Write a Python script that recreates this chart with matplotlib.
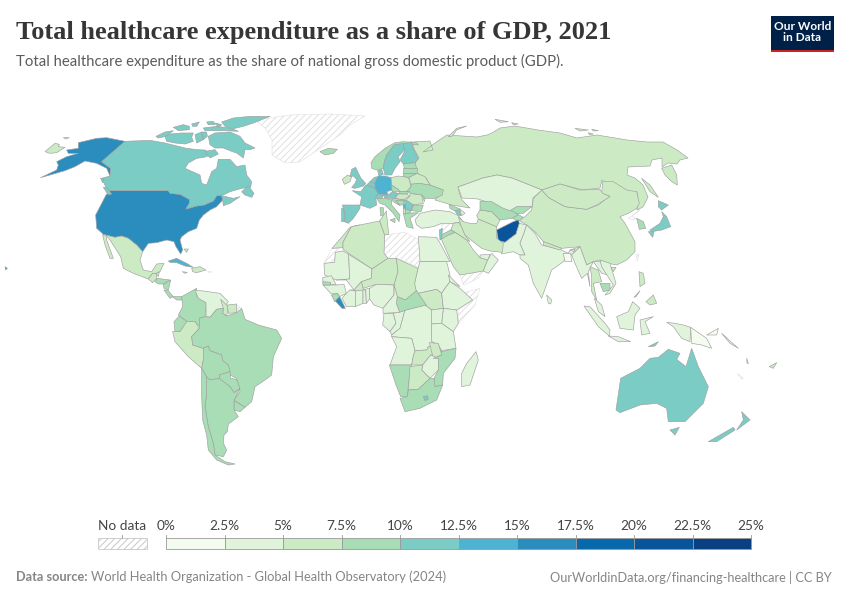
import matplotlib
matplotlib.use("Agg")
import matplotlib.pyplot as plt
from matplotlib.colors import BoundaryNorm, ListedColormap
from matplotlib.patches import Polygon, Rectangle

# ---------- legend scale ----------
bin_edges = [0, 2.5, 5, 7.5, 10, 12.5, 15, 17.5, 20, 22.5, 25]
bin_labels = ["0%", "2.5%", "5%", "7.5%", "10%", "12.5%", "15%", "17.5%", "20%", "22.5%", "25%"]
bin_colors = ["#f4fbef", "#e0f3db", "#ccebc5", "#a8ddb5", "#7bccc4",
              "#4eb3d3", "#2b8cbe", "#0868ac", "#08559c", "#084081"]

# ---------- estimated shares of GDP (None = no data) ----------
shares_na = {"United States": 17.4, "Alaska": 17.4, "Hawaii": 17.4, "Canada": 12.3, "Nova Scotia": 12.3,
             "Newfoundland": 12.3, "Vancouver": 12.3, "Haida": 12.3,
             "Mexico": 6.1, "Baja": 6.1, "Chukotka": 6.9, "St Lawrence": 6.9, "Greenland": None,
             "Guatemala": 6.3, "Belize": 6.0, "Honduras": 8.0, "Nicaragua": 9.5, "Costa Rica": 7.6,
             "Panama": 8.1, "Cuba": 14.0, "Hispaniola": 5.0, "Jamaica": 6.5, "Bahamas": 6.0, "Puerto Rico": None}
outlines_na = {
    "United States": [(330,272),(505,272),(510,280),(540,283),(568,298),(568,310),(558,327),(590,318),(612,315),(640,303),(650,287),(665,287),(668,300),(650,320),(630,330),(610,345),(598,360),(590,385),(565,395),(545,410),(540,420),(548,450),(542,462),(528,440),(522,425),(500,420),(470,428),(445,430),(428,455),(410,435),(385,415),(365,408),(345,412),(310,403),(290,385),(287,345),(300,320),(318,285)],
    "Alaska": [(375,124),(305,185),(318,195),(332,205),(330,228),(320,205),(290,190),(255,183),(225,200),(195,212),(122,233),(170,210),(175,195),(170,185),(200,170),(235,160),(205,160),(200,150),(235,145),(235,128),(290,115),(320,113)],
    "Hawaii": [(15,500),(22,505),(17,510)],
    "Canada": [(375,124),(450,121),(495,129),(555,144),(590,149),(615,150),(632,165),(612,172),(590,175),(565,189),(555,205),(600,225),(605,250),(620,255),(635,215),(650,205),(655,178),(690,178),(710,200),(735,195),(740,225),(755,245),(752,262),(725,265),(690,275),(670,285),(650,287),(640,303),(612,315),(590,318),(558,327),(568,310),(568,298),(540,283),(510,280),(505,272),(330,272),(318,262),(305,235),(330,228),(332,205),(318,195),(305,185)],
    "Nova Scotia": [(665,287),(700,295),(720,290),(690,310),(670,317),(668,300)],
    "Newfoundland": [(725,275),(745,258),(762,280),(755,292),(735,285)],
    "Vancouver": [(310,262),(320,262),(335,282),(325,285)],
    "Haida": [(302,235),(312,237),(308,248)],
    "Mexico": [(308,403),(345,412),(365,408),(385,415),(410,435),(428,455),(420,480),(430,510),(455,515),(470,492),(492,490),(480,515),(470,520),(458,520),(445,537),(400,520),(370,505),(362,470),(330,420),(320,408)],
    "Baja": [(308,405),(318,405),(320,420),(340,475),(330,475),(315,435)],
    "Chukotka": [(135,155),(165,130),(178,133),(175,140),(195,142),(170,158),(150,160)],
    "St Lawrence": [(190,113),(208,113),(198,117)],
    "Greenland": [(765,60),(870,45),(990,42),(1095,48),(1050,75),(1020,105),(975,135),(900,186),(855,189),(816,165),(816,120),(795,84)],
    "Guatemala": [(445,537),(458,520),(470,522),(470,535),(458,548)],
    "Belize": [(468,520),(478,515),(475,530)],
    "Honduras": [(465,545),(472,535),(510,540),(490,552),(475,552)],
    "Nicaragua": [(490,553),(512,540),(505,570),(492,565)],
    "Costa Rica": [(492,570),(505,572),(520,590),(510,595)],
    "Panama": [(518,590),(545,590),(548,600),(530,600)],
    "Cuba": [(505,483),(530,475),(560,490),(580,502),(555,498),(530,488),(510,487)],
    "Hispaniola": [(575,505),(600,500),(618,510),(590,518),(578,515)],
    "Jamaica": [(547,515),(562,517),(555,520)],
    "Bahamas": [(552,447),(565,447),(560,457)],
    "Puerto Rico": [(622,515),(635,515),(630,518)],
}

shares_arctic = {"Victoria": 12.3, "Banks": 12.3, "Melville": 12.3, "Bathurst": 12.3, "Prince of Wales": 12.3,
                 "Somerset": 12.3, "Devon": 12.3, "Ellesmere": 12.3, "Axel": 12.3, "Cornwallis": 12.3,
                 "Baffin": 12.3, "Southampton": 12.3}
outlines_arctic = {
    "Victoria": [(45,85),(60,78),(95,75),(130,75),(125,88),(130,100),(105,108),(75,105),(50,100)],
    "Banks": [(18,85),(45,72),(70,68),(48,85),(25,90)],
    "Melville": [(70,58),(100,50),(118,55),(118,65),(85,68)],
    "Bathurst": [(125,48),(148,42),(140,55),(128,55)],
    "Prince of Wales": [(135,80),(155,72),(160,95),(140,105)],
    "Somerset": [(155,72),(170,72),(172,85),(160,95)],
    "Devon": [(160,60),(200,55),(240,60),(265,70),(225,68),(165,68)],
    "Ellesmere": [(215,42),(250,30),(300,25),(360,25),(310,45),(280,55),(250,62),(225,55)],
    "Axel": [(170,42),(190,40),(195,50),(175,50)],
    "Cornwallis": [(195,45),(215,50),(205,58)],
    "Baffin": [(175,85),(195,75),(240,72),(270,85),(285,105),(315,120),(300,125),(285,125),(280,150),(260,135),(245,130),(220,120),(195,120),(180,110)],
    "Southampton": [(165,130),(195,125),(205,138),(180,150)],
}

shares_sa = {"Colombia": 8.1, "Venezuela": 4.0, "Guyana": 5.5, "Suriname": 6.5, "French Guiana": None,
             "Ecuador": 8.5, "Peru": 6.3, "Brazil": 9.9, "Bolivia": 8.0, "Paraguay": 8.0, "Uruguay": 9.2,
             "Argentina": 9.7, "Chile": 9.0}
outlines_sa = {
    "Colombia": [(245,50),(290,25),(290,50),(320,68),(315,110),(298,115),(300,140),(285,125),(260,125),(235,105),(248,80)],
    "Venezuela": [(285,30),(310,33),(360,40),(385,65),(370,85),(350,88),(330,112),(318,108),(318,68),(295,55)],
    "Guyana": [(362,58),(385,80),(380,108),(368,100),(370,85)],
    "Suriname": [(382,75),(410,72),(410,98),(385,100)],
    "French Guiana": [(410,75),(425,85),(412,100)],
    "Ecuador": [(222,125),(238,108),(262,125),(240,155),(225,155)],
    "Peru": [(218,155),(225,155),(240,155),(260,125),(285,125),(298,145),(275,170),(278,195),(310,205),(310,240),(305,265),(265,230),(225,185)],
    "Brazil": [(298,115),(315,110),(330,112),(350,88),(370,85),(368,100),(380,108),(410,98),(425,85),(435,118),(475,135),(530,150),(545,175),(520,230),(515,285),(495,300),(465,320),(455,365),(435,382),(402,360),(420,335),(410,295),(390,285),(385,255),(365,240),(365,225),(330,212),(325,198),(310,205),(278,195),(275,170),(298,145)],
    "Bolivia": [(310,205),(325,198),(330,212),(365,225),(368,242),(385,255),(390,275),(358,285),(358,295),(330,300),(320,290),(305,265),(310,240)],
    "Paraguay": [(358,285),(390,275),(392,295),(410,298),(420,325),(402,338),(390,320),(360,300)],
    "Uruguay": [(402,362),(435,382),(420,395),(402,390)],
    "Argentina": [(320,292),(330,300),(358,295),(390,320),(402,338),(420,325),(402,362),(402,390),(415,410),(385,432),(382,455),(372,465),(370,490),(380,510),(370,530),(345,525),(340,490),(325,440),(315,380),(320,340)],
    "Chile": [(305,265),(320,292),(320,340),(315,380),(325,440),(340,490),(345,525),(375,545),(405,552),(385,555),(350,540),(325,510),(320,465),(308,420),(305,350)],
}

shares_eu = {"Iceland": 9.7, "Ireland": 6.1, "United Kingdom": 12.4, "Norway": 9.1, "Sweden": 11.3, "Finland": 10.3,
             "Denmark": 10.8, "Germany": 12.9, "Netherlands": 11.3, "Belgium": 11.0, "France": 12.3, "Spain": 10.7,
             "Portugal": 11.0, "Switzerland": 11.8, "Austria": 12.1, "Italy": 9.4, "Sicily": 9.4, "Sardinia": 9.4,
             "Poland": 6.4, "Czechia": 9.5, "Slovakia": 7.8, "Hungary": 7.4, "Romania": 6.5, "Bulgaria": 8.5,
             "Serbia": 10.5, "Montenegro": 13.0, "Bosnia": 9.0, "Croatia": 8.1, "Greece": 9.2, "Albania": 6.5,
             "Macedonia": 8.0, "Ukraine": 7.6, "Belarus": 6.5, "Lithuania": 7.8, "Latvia": 9.0, "Estonia": 7.5,
             "Moldova": 6.0, "Novaya Zemlya": 6.9}
outlines_eu = {
    "Iceland": [(-45,35),(-20,25),(7,28),(-5,40),(-30,45)],
    "Ireland": [(22,118),(38,105),(50,110),(45,125),(28,133)],
    "United Kingdom": [(45,110),(50,88),(62,82),(68,95),(78,115),(92,130),(85,138),(60,145),(50,143),(60,130),(65,118),(55,108)],
    "Norway": [(108,68),(120,50),(150,25),(180,8),(205,5),(245,8),(250,15),(215,10),(205,15),(178,15),(155,45),(148,65),(145,85),(125,90),(110,85)],
    "Sweden": [(145,85),(148,65),(155,45),(178,15),(205,10),(208,30),(190,50),(195,65),(180,85),(170,105),(150,105)],
    "Finland": [(205,12),(215,10),(230,5),(235,25),(250,55),(240,68),(205,72),(195,60),(208,35)],
    "Denmark": [(128,92),(140,88),(145,103),(132,108)],
    "Germany": [(120,125),(130,108),(150,108),(168,113),(172,150),(155,155),(160,165),(130,162),(120,145)],
    "Netherlands": [(105,125),(118,112),(128,110),(120,128)],
    "Belgium": [(95,135),(105,125),(120,130),(120,145),(108,140)],
    "France": [(52,152),(78,155),(92,135),(108,140),(120,147),(130,162),(122,170),(125,195),(105,205),(75,195),(80,170)],
    "Spain": [(22,195),(75,195),(75,205),(55,235),(40,250),(28,245),(30,225),(25,205)],
    "Portugal": [(20,205),(25,205),(30,225),(28,245),(20,245)],
    "Switzerland": [(122,170),(130,162),(145,165),(140,177),(125,175)],
    "Austria": [(145,165),(160,165),(172,155),(190,160),(180,175),(150,175)],
    "Italy": [(125,175),(150,175),(170,180),(170,195),(195,225),(192,245),(175,220),(150,195),(135,190)],
    "Sicily": [(165,240),(180,235),(180,248)],
    "Sardinia": [(135,203),(145,203),(145,225),(137,228)],
    "Czechia": [(168,135),(190,148),(195,155),(172,155)],
    "Poland": [(168,113),(190,108),(220,112),(228,140),(215,155),(195,155),(190,148),(170,135)],
    "Slovakia": [(195,155),(225,155),(215,162),(190,162)],
    "Hungary": [(190,162),(215,162),(225,168),(205,180),(180,175)],
    "Romania": [(225,160),(260,165),(265,190),(235,195),(212,180),(225,168)],
    "Moldova": [(260,160),(270,175),(268,185)],
    "Ukraine": [(228,132),(255,130),(285,135),(325,150),(322,165),(300,175),(270,175),(260,165),(225,160),(225,155),(215,155),(228,140)],
    "Belarus": [(222,112),(245,100),(270,110),(285,135),(255,130),(228,132)],
    "Lithuania": [(205,100),(245,100),(222,112),(205,110)],
    "Latvia": [(205,85),(245,85),(245,100),(205,100)],
    "Estonia": [(205,72),(240,68),(245,85),(208,85)],
    "Bulgaria": [(235,195),(265,195),(258,215),(228,212)],
    "Serbia": [(205,180),(212,180),(235,195),(228,212),(212,208),(212,195)],
    "Montenegro": [(205,190),(212,195),(212,208),(205,205)],
    "Bosnia": [(182,182),(205,180),(205,195),(195,195)],
    "Croatia": [(170,178),(180,175),(205,180),(182,182),(195,197),(175,185)],
    "Greece": [(205,220),(250,218),(225,235),(235,265),(215,260)],
    "Albania": [(205,205),(212,208),(212,222),(205,220)],
    "Macedonia": [(212,208),(228,212),(225,218),(212,222)],
    "Novaya Zemlya": [(340,-10),(365,-35),(395,-42),(365,-30),(350,-10)],
}

shares_me = {"Turkey": 4.6, "Syria": None, "Iraq": 5.1, "Iran": 6.0, "Saudi Arabia": 6.0, "Jordan": 7.5, "Israel": 10.5,
             "Oman": 4.5, "UAE": 4.6, "Yemen": None, "Turkmenistan": 6.0, "Uzbekistan": 7.7,
             "Georgia": 7.6, "Armenia": 11.3, "Azerbaijan": 4.6}
outlines_me = {
    "Turkey": [(-30,75),(-15,55),(30,45),(75,50),(100,62),(115,80),(100,82),(85,85),(50,85),(25,95),(-10,100),(-25,90)],
    "Syria": [(52,110),(50,88),(85,85),(78,105),(55,118)],
    "Iraq": [(78,105),(85,85),(100,82),(110,95),(120,120),(135,140),(125,135),(90,112)],
    "Iran": [(100,65),(115,80),(135,85),(155,85),(160,72),(215,95),(215,130),(235,145),(232,172),(195,168),(170,160),(138,135),(120,120),(108,92)],
    "Saudi Arabia": [(48,130),(70,120),(90,112),(125,135),(145,165),(165,188),(188,195),(175,228),(105,240),(85,215)],
    "Jordan": [(52,118),(78,105),(90,112),(70,120),(50,132)],
    "Israel": [(43,105),(52,100),(50,130),(45,135)],
    "Oman": [(188,195),(200,175),(220,195),(190,235),(175,228)],
    "UAE": [(165,180),(195,178),(188,195),(165,188)],
    "Yemen": [(105,240),(175,228),(160,250),(115,270)],
    "Turkmenistan": [(155,62),(165,45),(200,50),(225,75),(215,95),(160,72)],
    "Uzbekistan": [(165,18),(200,20),(235,40),(265,50),(280,60),(260,70),(225,75),(200,50),(165,45)],
    "Georgia": [(72,28),(105,42),(90,48),(75,40)],
    "Armenia": [(90,48),(105,45),(108,62),(98,60)],
    "Azerbaijan": [(105,42),(120,55),(110,62),(105,45)],
}

shares_wa = {"Morocco": 6.0, "Algeria": 6.3, "Tunisia": 6.3, "Western Sahara": None, "Mauritania": 4.0, "Mali": 4.5,
             "Niger": 6.3, "Libya": None, "Chad": 5.4, "CAR": 9.4, "Burkina Faso": 6.3, "Senegal": 4.5, "Guinea": 4.0,
             "Gambia": 8.0, "Sierra Leone": 9.5, "Liberia": 16.0, "Ivory Coast": 3.9, "Ghana": 4.0, "Togo": 4.5,
             "Benin": 2.6, "Nigeria": 4.1, "Cameroon": 3.8}
outlines_wa = {
    "Morocco": [(42,70),(68,40),(95,8),(125,0),(100,5),(75,52),(75,68)],
    "Algeria": [(75,52),(100,5),(185,-12),(200,30),(198,85),(210,100),(162,132),(92,85),(75,72)],
    "Tunisia": [(185,-12),(205,-42),(212,28),(200,30)],
    "Western Sahara": [(18,115),(42,70),(75,68),(75,78),(52,82),(50,112)],
    "Mauritania": [(18,115),(50,112),(52,82),(75,78),(92,88),(95,162),(55,165),(20,150)],
    "Mali": [(92,88),(162,132),(160,160),(130,170),(108,195),(85,165),(55,165),(95,162)],
    "Niger": [(162,132),(210,100),(235,100),(240,140),(228,180),(175,178),(135,190),(130,170),(160,160)],
    "Libya": [(200,30),(260,22),(305,45),(303,128),(275,115),(235,100),(210,100),(198,85)],
    "Chad": [(235,100),(300,130),(290,175),(295,200),(262,225),(238,215),(228,180),(240,140)],
    "CAR": [(235,235),(238,215),(262,225),(295,197),(325,240),(265,255),(245,262)],
    "Burkina Faso": [(95,195),(108,195),(130,170),(135,190),(143,195),(112,198)],
    "Senegal": [(14,158),(40,152),(55,180),(15,175)],
    "Guinea": [(15,180),(55,180),(78,178),(85,205),(65,215),(58,205),(38,205)],
    "Gambia": [(15,170),(38,172),(38,180),(15,180)],
    "Sierra Leone": [(40,210),(58,205),(65,215),(50,230)],
    "Liberia": [(52,228),(65,215),(82,250),(72,250)],
    "Ivory Coast": [(85,205),(95,195),(112,198),(112,245),(85,245),(72,220)],
    "Ghana": [(112,198),(135,195),(135,235),(112,245)],
    "Togo": [(135,195),(143,195),(145,235),(135,235)],
    "Benin": [(143,192),(155,190),(155,222),(145,235)],
    "Nigeria": [(155,190),(175,178),(228,180),(228,210),(195,250),(168,240),(155,222)],
    "Cameroon": [(228,180),(238,215),(235,235),(245,262),(195,265),(195,250),(228,210)],
}

shares_af = {"Egypt": 4.6, "Sudan": 4.5, "South Sudan": 5.5, "Eritrea": 4.0, "Ethiopia": 3.5, "Somalia": None,
             "Kenya": 4.6, "Uganda": 4.0, "Burundi": 9.0, "Tanzania": 3.8, "Gabon": 3.6, "Congo": 3.9, "DR Congo": 4.3,
             "Angola": 3.2, "Zambia": 6.0, "Malawi": 5.5, "Zimbabwe": 3.0, "Mozambique": 9.5, "Namibia": 9.0,
             "Botswana": 6.5, "South Africa": 9.0, "Lesotho": 12.0, "Madagascar": 4.0}
outlines_af = {
    "Egypt": [(325,20),(380,22),(395,48),(420,95),(330,95)],
    "Sudan": [(330,95),(410,95),(420,135),(420,155),(405,175),(395,190),(380,178),(325,190),(320,185),(312,165),(324,115)],
    "South Sudan": [(325,190),(380,178),(395,190),(400,235),(365,240),(345,225)],
    "Eritrea": [(415,135),(450,170),(420,155)],
    "Ethiopia": [(420,155),(450,175),(488,210),(440,240),(400,235),(395,190),(405,175)],
    "Somalia": [(455,190),(510,175),(495,225),(445,280),(445,240),(488,210)],
    "Kenya": [(400,235),(440,240),(445,280),(430,305),(395,280)],
    "Uganda": [(365,240),(400,235),(395,280),(365,282)],
    "Burundi": [(362,285),(372,285),(372,300),(362,302)],
    "Tanzania": [(365,282),(395,280),(430,305),(438,355),(395,362),(385,345),(365,335)],
    "Gabon": [(222,250),(250,250),(258,280),(240,305),(218,285)],
    "Congo": [(250,250),(285,240),(270,295),(245,315),(240,305),(258,280)],
    "DR Congo": [(285,240),(345,225),(365,240),(365,335),(385,345),(355,350),(350,360),(315,362),(305,325),(245,320),(245,315),(270,295)],
    "Angola": [(245,320),(305,325),(315,362),(310,378),(305,405),(240,405),(260,350)],
    "Zambia": [(315,362),(350,360),(355,350),(385,345),(395,365),(362,375),(338,405),(305,405),(310,378)],
    "Malawi": [(358,338),(385,340),(395,375),(370,385)],
    "Zimbabwe": [(338,405),(362,375),(385,385),(385,420),(360,445),(335,420)],
    "Mozambique": [(395,365),(438,355),(435,385),(400,430),(398,465),(375,470),(372,445),(385,420),(385,385),(370,385),(395,375)],
    "Namibia": [(238,405),(305,405),(298,440),(292,500),(272,500),(258,465)],
    "Botswana": [(300,410),(338,405),(335,420),(360,445),(325,478),(295,480)],
    "South Africa": [(292,500),(295,480),(325,478),(360,445),(372,445),(375,470),(398,465),(380,510),(330,535),(285,545),(270,505)],
    "Lesotho": [(340,500),(352,497),(355,508),(345,512)],
    "Madagascar": [(498,365),(505,390),(480,465),(455,470),(455,430),(470,400)],
}

shares_as = {"China": 5.4, "Mongolia": 7.0, "Russia": 7.0, "Kamchatka": 7.0, "Sakhalin": 7.0, "Kazakhstan": 4.2,
             "Kyrgyzstan": 7.8, "Tajikistan": 8.2, "Afghanistan": 21.8, "Pakistan": 2.9, "India": 3.3, "Nepal": 5.4,
             "Bangladesh": 2.4, "Bhutan": 4.0, "Myanmar": 4.6, "Thailand": 5.0, "Laos": 2.9, "Vietnam": 4.7,
             "Cambodia": 9.3, "Sri Lanka": 4.1, "South Korea": 9.3, "North Korea": None, "Taiwan": None,
             "Honshu": 11.0, "Hokkaido": 11.0, "Kyushu": 11.0, "Hainan": 5.4,
             "Severny": 7.0, "Kolguev": 7.0, "New Siberian A": 7.0, "New Siberian B": 7.0, "New Siberian C": 7.0}
outlines_as = {
    "China": [(185,240),(205,262),(255,290),(320,298),(355,285),(388,258),(365,250),(368,215),(400,215),(440,240),(470,245),(478,280),(470,295),(445,310),(420,320),(435,340),(465,395),(465,425),(440,450),(410,465),(385,460),(360,450),(340,455),(320,465),(300,410),(245,415),(190,395),(165,365),(140,345),(115,330),(135,320),(155,300),(160,265)],
    "Mongolia": [(185,240),(240,222),(300,240),(360,238),(368,250),(390,260),(350,285),(320,298),(255,290),(205,262)],
    "Kamchatka": [(545,175),(575,165),(590,195),(592,225),(575,215),(555,195)],
    "Sakhalin": [(485,205),(510,225),(535,262),(510,245)],
    "Severny": [(45,28),(85,35),(60,37)],
    "Kolguev": [(95,38),(115,42),(100,44)],
    "New Siberian A": [(285,55),(325,60),(300,63)],
    "New Siberian B": [(325,68),(340,72),(328,74)],
    "New Siberian C": [(335,58),(355,62),(340,63)],
    "Kazakhstan": [(-66,231),(9,204),(51,195),(96,204),(186,240),(159,264),(156,291),(111,291),(84,306),(54,291),(30,279),(-6,267),(-54,264)],
    "Kyrgyzstan": [(85,305),(110,290),(155,290),(130,310),(100,312)],
    "Tajikistan": [(90,320),(105,308),(130,322),(115,335)],
    "Afghanistan": [(50,360),(100,335),(115,330),(118,340),(108,372),(75,397),(55,392)],
    "Pakistan": [(75,397),(108,372),(118,340),(140,345),(130,375),(120,400),(135,435),(120,435),(100,425),(65,432),(55,392)],
    "India": [(140,345),(165,370),(185,405),(245,420),(275,435),(300,410),(270,420),(250,455),(215,480),(185,565),(160,520),(145,465),(120,445),(120,435),(135,435),(120,400),(130,375)],
    "Nepal": [(190,395),(245,415),(240,420),(190,405)],
    "Bangladesh": [(250,430),(272,430),(275,455),(255,455)],
    "Bhutan": [(270,420),(285,418),(282,425)],
    "Myanmar": [(300,410),(320,465),(340,455),(325,485),(330,530),(322,490),(305,505),(285,460),(275,435)],
    "Thailand": [(330,470),(355,480),(365,515),(340,520),(350,570),(335,545),(335,500)],
    "Laos": [(340,455),(360,455),(385,495),(365,490)],
    "Vietnam": [(360,450),(390,460),(408,520),(390,550),(375,555),(400,525),(365,470)],
    "Cambodia": [(360,520),(390,520),(390,540),(370,545)],
    "Sri Lanka": [(200,555),(215,570),(212,582),(205,580)],
    "South Korea": [(470,325),(490,335),(497,355),(478,358)],
    "North Korea": [(445,325),(475,305),(480,298),(455,318),(470,325),(458,330)],
    "Taiwan": [(468,432),(477,432),(472,455)],
    "Honshu": [(545,305),(560,320),(572,350),(545,360),(515,365),(510,360),(540,340),(550,320)],
    "Hokkaido": [(535,272),(565,285),(545,300),(535,290)],
    "Kyushu": [(505,365),(522,365),(518,382)],
    "Hainan": [(393,472),(408,472),(400,485)],
}

shares_oc = {"Sumatra": 3.5, "Java": 3.5, "Borneo": 3.5, "Sulawesi": 3.5, "West Papua": 3.5, "Papua New Guinea": 2.3,
             "New Britain": 2.3, "Solomon": 4.5, "Luzon": 5.0, "Mindanao": 5.0, "Palawan": 5.0, "Peninsular Malaysia": 4.4,
             "Australia": 10.5, "Tasmania": 10.5, "NZ North": 11.0, "NZ South": 11.0, "New Caledonia": None,
             "Vanuatu": 4.0, "Fiji": 6.5, "Timor": 11.0}
outlines_oc = {
    "Sumatra": [(72,108),(90,110),(135,160),(150,180),(148,198),(115,170)],
    "Java": [(145,198),(175,200),(212,215),(175,215)],
    "Borneo": [(170,140),(205,125),(218,95),(240,115),(225,135),(220,180),(180,175)],
    "Sulawesi": [(240,150),(280,140),(255,155),(270,190),(245,195)],
    "West Papua": [(320,157),(345,160),(370,165),(392,172),(390,215),(365,205),(340,170)],
    "Papua New Guinea": [(392,172),(440,205),(455,235),(425,225),(395,220)],
    "New Britain": [(440,195),(475,175),(470,195)],
    "Solomon": [(485,190),(535,235),(510,220)],
    "Luzon": [(237,5),(250,10),(255,40),(240,50)],
    "Mindanao": [(258,95),(280,75),(290,100),(270,105)],
    "Palawan": [(222,82),(240,62),(228,80)],
    "Peninsular Malaysia": [(103,85),(125,105),(135,140),(115,125)],
    "Australia": [(168,420),(182,325),(240,295),(270,265),(295,262),(325,238),(360,250),(350,268),(378,290),(395,235),(415,290),(445,350),(430,400),(375,455),(325,455),(320,415),(290,400),(240,405),(180,428)],
    "Tasmania": [(330,480),(358,472),(345,495)],
    "NZ North": [(545,425),(570,450),(530,480),(550,450)],
    "NZ South": [(445,515),(520,472),(525,480),(470,515)],
    "New Caledonia": [(532,310),(550,325),(545,328)],
    "Vanuatu": [(560,265),(565,280),(561,280)],
    "Fiji": [(628,290),(650,278),(640,295)],
    "Timor": [(265,230),(295,215),(285,228)],
}

# Russia is traced on the page grid
russia_outline = [(413,142),(430,141),(433,150),(423,152),(435,143),(447,135),(477,137),(487,135),(492,133),(500,128),(515,126),(538,130),(560,133),(577,138),(597,135),(627,140),(647,142),(663,142),(677,150),(688,158),(680,160),(677,164),(668,163),(662,167),(662,158),(652,160),(650,166),(628,167),(627,175),(635,178),(643,185),(648,197),(643,207),(637,210),(638,200),(637,192),(620,193),(602,180),(600,188),(583,190),(560,184),(542,190),(512,178),(497,175),(483,178),(458,187),(460,195),(462,200),(470,208),(452,205),(435,200),(443,190),(430,185),(426,178),(417,173),(415,169),(415,163),(419,158),(413,147)]

# crop frames that the outlines above were read in (offset on the page; third = scale)
frame_na = (0, 100, 3)
frame_arctic = (150, 108, 3)
frame_sa = (100, 280, 3)
frame_eu = (335, 140, 3)
frame_me = (425, 195, 3)
frame_wa = (318, 225, 3)
frame_af = (310, 230, 3)
frame_as = (480, 110, 3)
frame_oc = (560, 270, 3)

title = "Total healthcare expenditure as a share of GDP, 2021"
subtitle = "Total healthcare expenditure as the share of national gross domestic product (GDP)."
source_bold = "Data source:"
source_text = "World Health Organization - Global Health Observatory (2024)"
credit = "OurWorldinData.org/financing-healthcare | CC BY"

# ---------- drawing ----------
plt.rcParams["font.family"] = ["Lato", "DejaVu Sans"]
plt.rcParams["hatch.linewidth"] = 0.7
cmap = ListedColormap(bin_colors)
norm = BoundaryNorm(bin_edges, cmap.N)

fig = plt.figure(figsize=(8.5, 6), dpi=100)
ax = fig.add_axes([0, 0, 1, 1])
ax.set_xlim(0, 850)
ax.set_ylim(600, 0)
ax.axis("off")

def add_shape(points, value):
    if value is None:
        ax.add_patch(Polygon(points, closed=True, facecolor="white", edgecolor="#e0e0e0",
                             hatch="/////", linewidth=0.4, zorder=1))
    else:
        ax.add_patch(Polygon(points, closed=True, facecolor=cmap(norm(value)), edgecolor="#a0a0a0",
                             linewidth=0.45, joinstyle="round", zorder=2))

add_shape(russia_outline, shares_as["Russia"])
for outlines, shares, (ox, oy, s) in [(outlines_na, shares_na, frame_na), (outlines_arctic, shares_arctic, frame_arctic),
                                      (outlines_sa, shares_sa, frame_sa), (outlines_af, shares_af, frame_af),
                                      (outlines_wa, shares_wa, frame_wa), (outlines_as, shares_as, frame_as),
                                      (outlines_me, shares_me, frame_me), (outlines_eu, shares_eu, frame_eu),
                                      (outlines_oc, shares_oc, frame_oc)]:
    for name, pts in outlines.items():
        add_shape([(ox + x / s, oy + y / s) for x, y in pts], shares[name])

# header
ax.text(16, 32, title, family="Liberation Serif", fontweight="bold", fontsize=19, color="#363636", va="center", ha="left")
ax.text(16, 61, subtitle, fontsize=10.75, color="#5b5b5b", va="center", ha="left")
ax.add_patch(Rectangle((771, 16), 63, 36, facecolor="#002147", edgecolor="none", zorder=3))
ax.add_patch(Rectangle((771, 49.5), 63, 2.5, facecolor="#ce261e", edgecolor="none", zorder=4))
ax.text(802.5, 32, "Our World\nin Data", color="white", fontweight="bold", fontsize=8.6, ha="center", va="center",
        linespacing=1.0, zorder=5)

# footer
ax.text(16, 577, source_bold, fontsize=9.2, fontweight="bold", color="#858585", va="center", ha="left")
ax.text(91, 577, source_text, fontsize=9.25, color="#858585", va="center", ha="left")
ax.text(832, 577, credit, fontsize=9.2, color="#858585", va="center", ha="right")

# no-data legend
ax.add_patch(Rectangle((98, 538), 49, 10.5, facecolor="white", edgecolor="#c8c8c8", hatch="/////", linewidth=0.6))
ax.text(122.5, 526.5, "No data", fontsize=9.8, color="#444444", ha="center", va="center")
ax.plot([122.5, 122.5], [535, 538], color="#999999", lw=0.6)

# numeric legend in its own axes, on the scale of the data
lax = fig.add_axes([166 / 850, 1 - 548.5 / 600, 585 / 850, 14 / 600])
lax.set_xlim(bin_edges[0], bin_edges[-1])
lax.set_ylim(0, 14)
lax.axis("off")
for lo, hi, c in zip(bin_edges[:-1], bin_edges[1:], bin_colors):
    lax.add_patch(Rectangle((lo, 0), hi - lo, 10.5, facecolor=c, edgecolor="#9a9a9a", linewidth=0.6, clip_on=False))
for e, lab in zip(bin_edges, bin_labels):
    lax.plot([e, e], [10.5, 13.5], color="#999999", lw=0.6, clip_on=False)
    lax.text(e, 22, lab, fontsize=9.8, color="#444444", ha="center", va="center", clip_on=False)

fig.savefig("out.png", dpi=100)
